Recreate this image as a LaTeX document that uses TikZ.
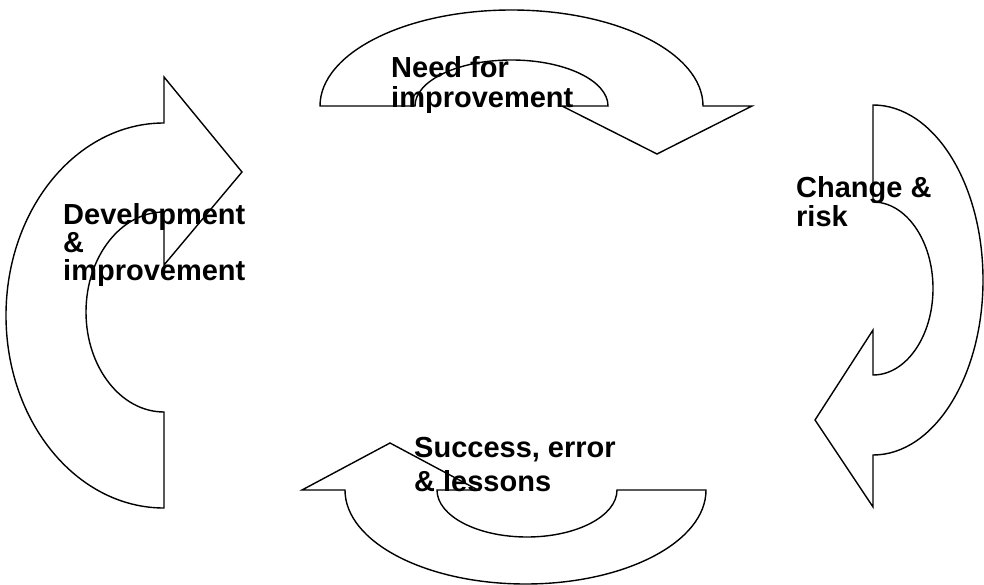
\documentclass[tikz,border=0pt]{standalone}
\usepackage{fontspec}
\setmainfont{Liberation Sans}
\begin{document}
\begin{tikzpicture}[x=1pt, y=1pt, yscale=-1,
  band/.style={draw=black, line width=1.4pt, line join=miter, fill=white},
  lbl/.style={font=\bfseries\fontsize{29}{#1}\selectfont, align=left,
    anchor=base west, inner sep=0pt}]
  \useasboundingbox (0,0) rectangle (984,585);

  % Top band (points right, down)
  \draw[band] (320,106) arc[start angle=180, end angle=360, x radius=191.5pt, y radius=96pt]
    -- (752,106) -- (657,154) -- (562,106) -- (608,106)
    arc[start angle=0, end angle=-180, x radius=96.5pt, y radius=46pt] -- cycle;

  % Right band (points down, left)
  \draw[band] (873,105) arc[start angle=-90, end angle=90, x radius=110pt, y radius=175pt]
    -- (873,507) -- (815,420) -- (873,330) -- (873,375)
    arc[start angle=90, end angle=-90, x radius=60pt, y radius=86.5pt] -- cycle;

  % Bottom band (points left, up)
  \draw[band] (706,490) arc[start angle=0, end angle=180, x radius=180.5pt, y radius=94pt]
    -- (302,490) -- (390,443) -- (478,490) -- (437,490)
    arc[start angle=180, end angle=0, x radius=90pt, y radius=47pt] -- cycle;

  % Left band (points up, right)
  \draw[band] (164,508) arc[start angle=90, end angle=270, x radius=158pt, y radius=192.5pt]
    -- (164,77) -- (242,172) -- (164,265) -- (164,212)
    arc[start angle=270, end angle=90, x radius=78pt, y radius=100pt] -- cycle;

  % Labels (base = last line)
  \node[lbl=30] (need) at (391,108) {Need for\\improvement};
  \node[lbl=29] (change) at (796,227) {Change \&\\risk};
  \node[lbl=34] (success) at (414,491) {Success, error\\\& lessons};
  \node[lbl=28] (develop) at (63,280) {Development\\\&\\improvement};
\end{tikzpicture}
\end{document}
